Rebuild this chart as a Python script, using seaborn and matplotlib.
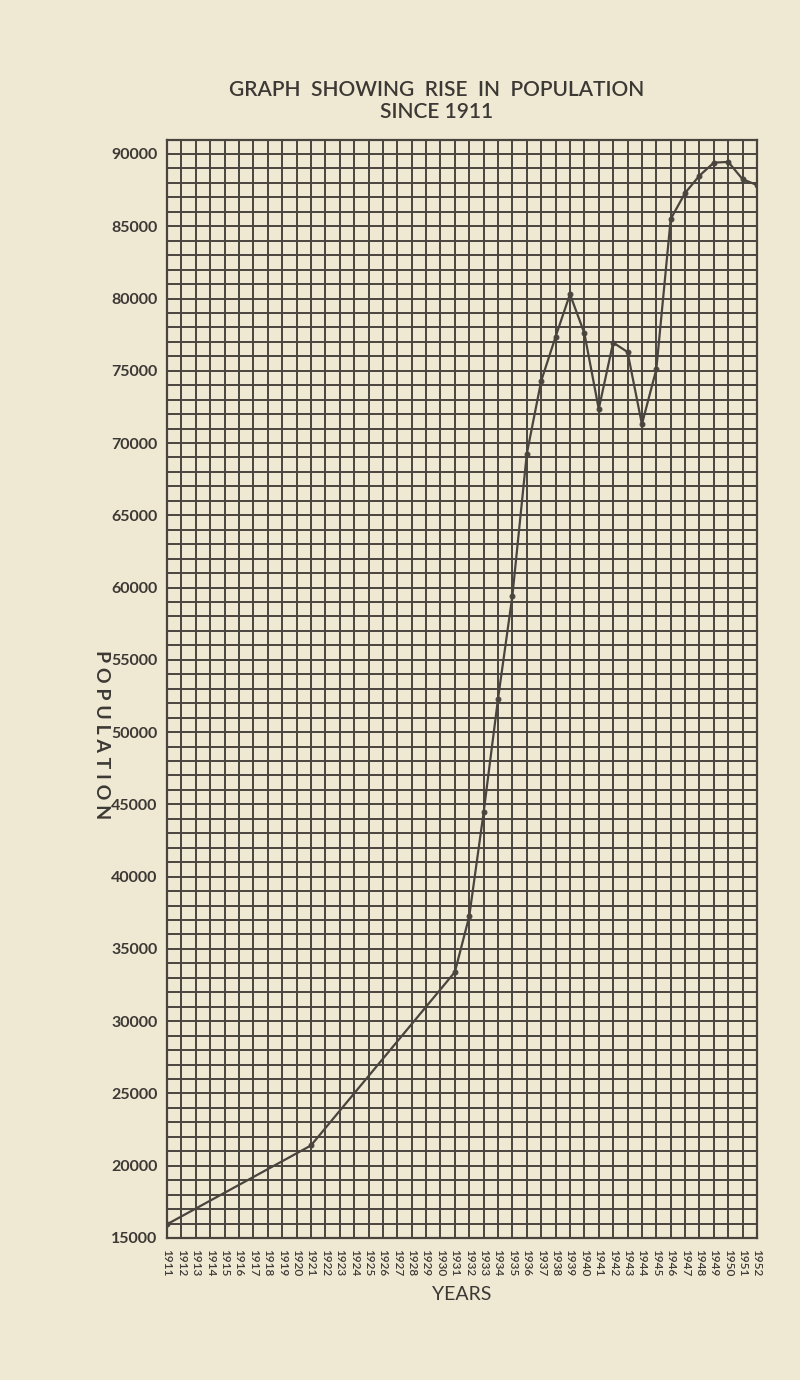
import matplotlib
matplotlib.use("Agg")
import matplotlib.pyplot as plt
import seaborn as sns
import pandas as pd
import numpy as np
from matplotlib.ticker import MultipleLocator

years = [1911, 1921, 1931, 1932, 1933, 1934, 1935, 1936, 1937, 1938, 1939,
         1940, 1941, 1942, 1943, 1944, 1945, 1946, 1947, 1948, 1949, 1950,
         1951, 1952]
population = [15950, 21400, 33400, 37250, 44450, 52300, 59450, 69250, 74300,
              77350, 80300, 77600, 72350, 76950, 76300, 71300, 75100, 85500,
              87300, 88500, 89400, 89450, 88250, 87850]
year_ticks = list(range(1911, 1953))
pop_ticks = list(range(15000, 90001, 5000))

BG = "#efe9d4"
INK = "#4a443e"
TXT = "#3c3834"

sns.set_theme(style="white")
plt.rcParams["font.family"] = ["Lato", "DejaVu Sans"]

df = pd.DataFrame({"year": years, "population": population})

fig = plt.figure(figsize=(8, 13.8), dpi=100, facecolor=BG)
ax = fig.add_axes([0.2088, 0.1029, 0.7375, 0.7960])
ax.set_facecolor(BG)

sns.lineplot(data=df, x="year", y="population", ax=ax, color=INK,
             linewidth=1.6, marker="o", markersize=3.5,
             markeredgecolor=INK, markerfacecolor=INK, zorder=5)

ax.set_xlim(1911, 1952)
ax.set_ylim(15000, 91000)
ax.set_xticks(year_ticks)
ax.set_xticklabels([str(y) for y in year_ticks], rotation=-90,
                   fontsize=8.5, color=TXT, fontweight="semibold")
ax.set_yticks(pop_ticks)
ax.set_yticklabels([str(v) for v in pop_ticks], fontsize=11.5, color=TXT,
                   fontweight="bold")
ax.yaxis.set_minor_locator(MultipleLocator(1000))
ax.grid(True, which="both", color=INK, linewidth=1.4)
ax.set_axisbelow(True)
ax.tick_params(axis="both", which="both", length=0)
ax.tick_params(axis="x", pad=8)
ax.tick_params(axis="y", pad=7)
for s in ax.spines.values():
    s.set_color(INK)
    s.set_linewidth(1.6)
    s.set_visible(True)

ax.set_xlabel("YEARS", fontsize=14, color=TXT, labelpad=7)
ax.set_ylabel("P O P U L A T I O N", fontsize=14, color=TXT,
              rotation=-90, labelpad=0, fontweight="bold")
ax.yaxis.set_label_coords(-0.125, 0.458)

fig.text(0.546, 0.935, "GRAPH  SHOWING  RISE  IN  POPULATION", ha="center",
         va="center", fontsize=15, color=TXT, fontweight="semibold")
fig.text(0.546, 0.919, "SINCE 1911", ha="center", va="center",
         fontsize=15, color=TXT, fontweight="semibold")

fig.savefig("out.png", dpi=100, facecolor=BG)
